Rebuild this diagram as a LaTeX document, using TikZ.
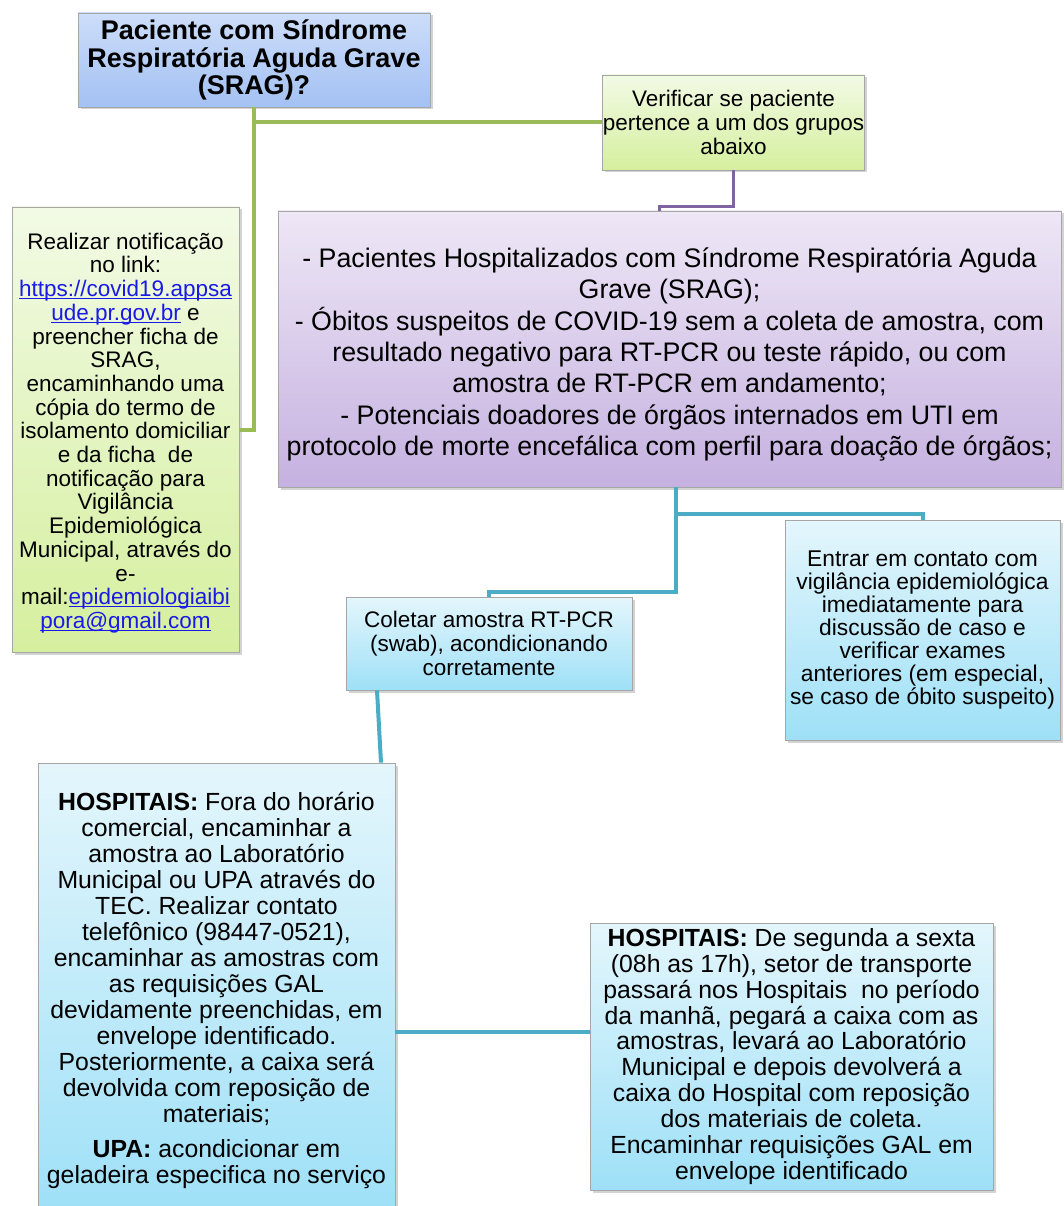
\documentclass[tikz,border=0pt]{standalone}
\usepackage{fontspec}
\setmainfont{Liberation Sans}
\usetikzlibrary{shadows,calc}
\definecolor{titleT}{HTML}{CCDDF9}
\definecolor{titleB}{HTML}{A3C1F3}
\definecolor{grnT}{HTML}{F2FAE5}
\definecolor{grnB}{HTML}{D5EF9E}
\definecolor{purT}{HTML}{EEE7F6}
\definecolor{purB}{HTML}{C5B1E0}
\definecolor{bluT}{HTML}{E4F6FC}
\definecolor{bluB}{HTML}{9EE0F7}
\definecolor{gline}{HTML}{9BBB59}
\definecolor{pline}{HTML}{8064A2}
\definecolor{tline}{HTML}{4BACC6}
\definecolor{lnkc}{HTML}{1A1AE6}
\newcommand{\lnk}[1]{{\color{lnkc}\setbox0\hbox{#1}\rlap{\rule[-2.4pt]{\wd0}{1.1pt}}\box0}}
\tikzset{
  box/.style={draw=black!35, line width=0.8pt, align=center, inner sep=0pt,
    drop shadow={shadow xshift=2.5pt, shadow yshift=-2.5pt, opacity=0.35}},
  small/.style={font=\fontsize{22.5}{23.7}\selectfont},
  greenbox/.style={box, top color=grnT, bottom color=grnB},
  bluebox/.style={box, top color=bluT, bottom color=bluB},
  txt/.style={align=center, inner sep=0pt},
  gl/.style={draw=gline, line width=4pt},
  pl/.style={draw=pline, line width=3.5pt},
  tl/.style={draw=tline, line width=4pt},
}
\begin{document}
\begin{tikzpicture}[x=1pt,y=-1pt]
\useasboundingbox (0,0) rectangle (1064,1206);

\node[box, top color=titleT, bottom color=titleB, minimum width=352, minimum height=94,
  font=\fontsize{27}{27.5}\selectfont\bfseries] (title) at (254,60)
  {Paciente com Síndrome\\Respiratória Aguda Grave\\(SRAG)?};

\node[greenbox, minimum width=227, minimum height=445] (leftbox) at (125.5,429.5) {};
\node[txt, small] (lefttxt) at ([yshift=-3.5pt]leftbox.center)
  {Realizar notificação\\no link:\\\lnk{https://covid19.appsa}\\\lnk{ude.pr.gov.br} e\\preencher ficha de\\SRAG,\\encaminhando uma\\cópia do termo de\\isolamento domiciliar\\e da ficha~ de\\notificação para\\Vigilância\\Epidemiológica\\Municipal, através do\\e-\\mail:\lnk{epidemiologiaibi}\\\lnk{pora@gmail.com}};

\node[greenbox, small, minimum width=253, minimum height=95] (verify) at (733.5,122.5)
  {Verificar se paciente\\pertence a um dos grupos\\abaixo};

\node[box, top color=purT, bottom color=purB, minimum width=783, minimum height=276] (purple) at (669.5,349) {};
\node[txt, font=\fontsize{26.8}{31.3}\selectfont] (purpletxt) at ([yshift=-5.5pt]purple.center)
  {- Pacientes Hospitalizados com Síndrome Respiratória Aguda\\Grave (SRAG);\\- Óbitos suspeitos de COVID-19 sem a coleta de amostra, com\\resultado negativo para RT-PCR ou teste rápido, ou com\\amostra de RT-PCR em andamento;\\- Potenciais doadores de órgãos internados em UTI em\\protocolo de morte encefálica com perfil para doação de órgãos;};

\node[bluebox, small, minimum width=286, minimum height=93] (coleta) at (489,643.5)
  {Coletar amostra RT-PCR\\(swab), acondicionando\\corretamente};

\node[bluebox, font=\fontsize{22.8}{22.9}\selectfont, minimum width=275, minimum height=220] (entrar) at (922.5,630)
  {Entrar em contato com\\vigilância epidemiológica\\imediatamente para\\discussão de caso e\\verificar exames\\anteriores (em especial,\\se caso de óbito suspeito)};

\node[bluebox, minimum width=357, minimum height=452] (hospL) at (216.5,989) {};
\node[txt, font=\fontsize{24.8}{26}\selectfont] (hospLtxt) at ([yshift=-1pt]hospL.center)
  {\textbf{HOSPITAIS:} Fora do horário\\comercial, encaminhar a\\amostra ao Laboratório\\Municipal ou UPA através do\\TEC. Realizar contato\\telefônico (98447-0521),\\encaminhar as amostras com\\as requisições GAL\\devidamente preenchidas, em\\envelope identificado.\\Posteriormente, a caixa será\\devolvida com reposição de\\materiais;\\[9pt]\textbf{UPA:} acondicionar em\\geladeira especifica no serviço};

\node[bluebox, font=\fontsize{24.8}{25.9}\selectfont, minimum width=403, minimum height=267] (hospR) at (791.5,1056.5)
  {\textbf{HOSPITAIS:} De segunda a sexta\\(08h as 17h), setor de transporte\\passará nos Hospitais~ no período\\da manhã, pegará a caixa com as\\amostras, levará ao Laboratório\\Municipal e depois devolverá a\\caixa do Hospital com reposição\\dos materiais de coleta.\\Encaminhar requisições GAL em\\envelope identificado};

% connectors
\draw[gl] (title.south) |- (leftbox.east);
\draw[gl] (title.south) |- (verify.west);
\draw[pl] (verify.south) -- ++(0,36) -| ([xshift=-10pt]purple.north);
\draw[tl] ([xshift=6pt]purple.south) -- ++(0,27) -| (entrar.north);
\draw[tl] ([xshift=6pt]purple.south) -- ++(0,105) -| (coleta.north);
\draw[tl] ([xshift=-112pt]coleta.south) -- ([xshift=164.5pt]hospL.north);
\coordinate (hy) at (0,1032);
\draw[tl] (hospL.east |- hy) -- (hospR.west |- hy);
\end{tikzpicture}
\end{document}
